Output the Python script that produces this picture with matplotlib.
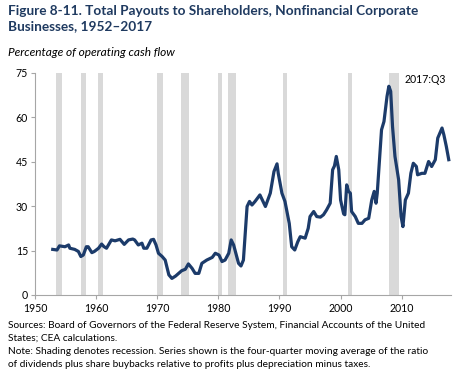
import matplotlib
matplotlib.use("Agg")
import matplotlib.pyplot as plt

# %%
# Data (percentage of operating cash flow)

years = [
    1952.9, 1953.6, 1954.0, 1954.9, 1955.5, 1955.7, 1956.5, 1957.1, 1957.5,
    1957.9, 1958.4, 1958.7, 1959.3, 1959.7, 1960.4, 1960.9, 1961.3, 1961.7,
    1962.5, 1963.1, 1963.9, 1964.6, 1965.3, 1966.0, 1966.3, 1966.9, 1967.5,
    1967.8, 1968.3, 1969.0, 1969.4, 1969.8, 1970.2, 1970.8, 1971.3, 1971.9,
    1972.4, 1973.0, 1973.5, 1974.0, 1974.6, 1975.1, 1975.7, 1976.2, 1976.8,
    1977.3, 1978.1, 1979.0, 1979.5, 1980.1, 1980.6, 1981.1, 1981.7, 1982.1,
    1982.5, 1983.3, 1983.7, 1984.1, 1984.7, 1985.1, 1985.5, 1986.0, 1986.8,
    1987.7, 1988.5, 1989.1, 1989.6, 1989.8, 1990.4, 1990.9, 1991.6, 1992.0,
    1992.5, 1993.0, 1993.4, 1994.2, 1994.7, 1995.0, 1995.6, 1996.1, 1996.7,
    1997.2, 1997.7, 1998.3, 1998.7, 1999.0, 1999.3, 1999.7, 2000.0, 2000.5,
    2000.7, 2001.0, 2001.3, 2001.6, 2001.8, 2002.4, 2002.9, 2003.5, 2004.0,
    2004.6, 2005.1, 2005.5, 2005.8, 2006.0, 2006.7, 2007.1, 2007.6, 2007.9,
    2008.2, 2008.5, 2008.9, 2009.5, 2009.9, 2010.2, 2010.6, 2011.1, 2011.5,
    2011.9, 2012.4, 2012.6, 2013.3, 2013.8, 2014.4, 2014.9, 2015.5, 2015.9,
    2016.6, 2016.9, 2017.3, 2017.7,
]
payouts = [
    15.4, 15.2, 16.6, 16.3, 16.9, 15.8, 15.4, 14.7, 13.0,
    13.5, 16.3, 16.3, 14.3, 14.7, 15.8, 17.2, 16.3, 15.8,
    18.6, 18.3, 18.8, 17.1, 18.6, 18.9, 18.6, 16.9, 17.5,
    15.8, 15.8, 18.6, 18.8, 16.9, 14.1, 13.0, 11.8, 6.8,
    5.6, 6.4, 7.3, 8.2, 8.7, 10.5, 9.0, 7.3, 7.3,
    10.7, 11.8, 12.7, 14.1, 13.5, 11.3, 11.8, 14.1, 18.6,
    16.9, 10.7, 9.8, 11.8, 29.9, 31.6, 30.4, 31.6, 33.8,
    29.9, 34.4, 41.7, 44.3, 41.1, 34.4, 31.6, 24.2, 16.3,
    15.2, 18.0, 19.7, 19.2, 22.5, 26.5, 28.2, 26.5, 26.3,
    27.1, 28.7, 31.0, 42.3, 43.6, 46.8, 42.3, 32.1, 27.4,
    27.1, 37.2, 35.0, 34.4, 28.2, 26.5, 24.2, 24.2, 25.4,
    25.9, 32.1, 35.0, 31.0, 34.4, 55.8, 58.6, 67.1, 70.5,
    68.8, 56.9, 46.8, 38.9, 26.5, 23.1, 32.1, 34.4, 41.1,
    44.5, 43.4, 40.6, 41.1, 41.1, 45.1, 43.4, 45.7, 53.0,
    56.4, 54.1, 50.2, 45.7,
]

# NBER recessions (start, end) in fractional years
rec_start = [1953.5, 1957.6, 1960.3, 1969.9, 1973.9, 1980.0, 1981.5, 1990.5, 2001.2, 2007.9]
rec_end = [1954.4, 1958.3, 1961.1, 1970.9, 1975.2, 1980.6, 1982.9, 1991.2, 2001.9, 2009.5]

y_ticks = [0, 15, 30, 45, 60, 75]
x_ticks = [1950, 1960, 1970, 1980, 1990, 2000, 2010]

NAVY = "#1c3b6a"
TITLE = "#1f3a60"
GREY = "#d9d9d9"
SPINE = "#a6a6a6"

plt.rcParams["font.family"] = ["Lato", "DejaVu Sans"]

fig = plt.figure(figsize=(4.65, 3.8), dpi=100)
ax = fig.add_axes([0.0753, 0.2237, 0.8937, 0.5843])

for a, b in zip(rec_start, rec_end):
    ax.axvspan(a, b, color=GREY, lw=0, zorder=0)

ax.plot(years, payouts, color=NAVY, lw=2.3, solid_joinstyle="round", zorder=2)

ax.set_xlim(1950, 2018)
ax.set_ylim(0, 75)
ax.set_yticks(y_ticks)
ax.set_xticks(x_ticks)
ax.tick_params(labelsize=7.6, color=SPINE, length=3, width=0.8, pad=2)
ax.tick_params(axis="x", pad=3)
for side in ("top", "right"):
    ax.spines[side].set_visible(False)
for side in ("left", "bottom"):
    ax.spines[side].set_color(SPINE)
    ax.spines[side].set_linewidth(0.8)

ax.text(2017.3, 74.5, "2017:Q3", fontsize=7.6, ha="right", va="top", zorder=3)

fig.text(0.017, 0.988, "Figure 8-11. Total Payouts to Shareholders, Nonfinancial Corporate\n"
         "Businesses, 1952\u20132017", fontsize=9.8, fontweight="bold", color=TITLE,
         ha="left", va="top", linespacing=1.4)
fig.text(0.017, 0.862, "Percentage of operating cash flow", fontsize=8.6,
         style="italic", ha="left", va="center")

fig.text(0.017, 0.155,
         "Sources: Board of Governors of the Federal Reserve System, Financial Accounts of the United\n"
         "States; CEA calculations.\n"
         "Note: Shading denotes recession. Series shown is the four-quarter moving average of the ratio\n"
         "of dividends plus share buybacks relative to profits plus depreciation minus taxes.",
         fontsize=7.3, ha="left", va="top", linespacing=1.58)

fig.savefig("out.png", dpi=100)
